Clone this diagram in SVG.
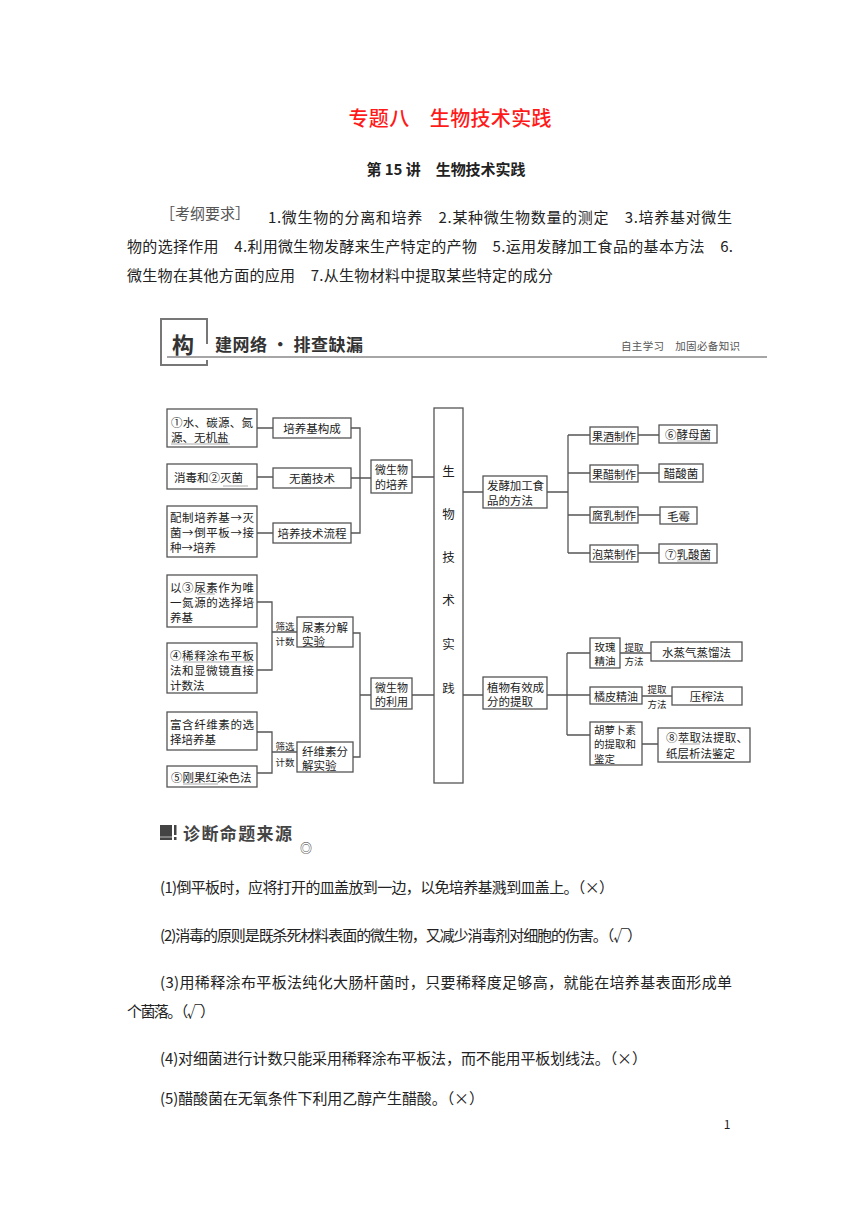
<svg xmlns="http://www.w3.org/2000/svg" width="860" height="1216" viewBox="0 0 860 1216">
<style>
text{font-family:"Noto Sans CJK SC","Noto Sans",sans-serif;dominant-baseline:central;fill:#222}
.b{fill:#fff;stroke:#555;stroke-width:1.3}
.c{fill:none;stroke:#555;stroke-width:1.3}
.u{fill:none;stroke:#aaa;stroke-width:1}
.t{font-size:11.5px}
.s{font-size:11px}
.s2{font-size:10.5px}
.xs{font-size:9.5px}
.m{text-anchor:middle}
.body{font-size:15px;fill:#222}
</style>
<rect width="860" height="1216" fill="#fff"/>

<!-- header -->
<text x="450" y="117" class="m" style="font-size:20px;fill:#ff1a1a;font-weight:500" textLength="203">专题八　生物技术实践</text>
<text x="446" y="168" class="m" style="font-size:15px;font-weight:700" textLength="159">第 15 讲　生物技术实践</text>
<text x="160" y="212" style="font-size:15px;fill:#555" textLength="90">［考纲要求］</text>
<text x="268" y="216" class="body" textLength="464">1.微生物的分离和培养　2.某种微生物数量的测定　3.培养基对微生</text>
<text x="127" y="245" class="body" textLength="606">物的选择作用　4.利用微生物发酵来生产特定的产物　5.运用发酵加工食品的基本方法　6.</text>
<text x="127" y="274" class="body" textLength="426">微生物在其他方面的应用　7.从生物材料中提取某些特定的成分</text>

<!-- section header -->
<g id="sec1">
<path d="M207,344 V319 H161 V365 H207 V360" fill="none" stroke="#777" stroke-width="2"/>
<line x1="167" y1="357" x2="767" y2="357" stroke="#888" stroke-width="1.5"/>
<text x="183" y="343" class="m" style="font-size:22px;font-weight:700;fill:#333">构</text>
<text x="215" y="343" style="font-size:17px;font-weight:700;fill:#333" textLength="148">建网络 · 排查缺漏</text>
<text x="621" y="345" style="font-size:10.5px;fill:#555" textLength="119">自主学习　加固必备知识</text>
</g>

<!-- connectors -->
<g id="connectors" class="c">
<path d="M257,428 H273 M257,477 H273 M257,533 H273"/>
<path d="M351,428 H360 V533 H351 M351,478 H371 M412,477 H434"/>
<path d="M257,602 H272 V670 H257 M272,632 H297"/>
<path d="M257,732 H272 V773 H257 M272,752 H297"/>
<path d="M353,633 H360 V757 H353 M360,695 H371 M412,695 H434"/>
<path d="M463,492 H483 M547,492 H568 M568,435 V553 M568,435 H590 M568,473 H590 M568,515 H590 M568,553 H590"/>
<path d="M638,435 H659 M638,473 H659 M638,515 H660 M638,553 H659"/>
<path d="M463,695 H483 M547,695 H567 M567,653 V735 M567,653 H590 M567,695 H590 M567,735 H590"/>
<path d="M620,653 H651 M642,696 H672 M642,744 H658"/>
</g>

<!-- left upper -->
<g id="n1"><rect class="b" x="167" y="409" width="90" height="38"/>
<text class="t" x="171" y="422" textLength="82">①水、碳源、氮</text><text class="t" x="171" y="437">源、无机盐</text>
<line class="u" x1="171" y1="444" x2="230" y2="444"/></g>
<g id="n2"><rect class="b" x="273" y="418" width="78" height="20"/><text class="t m" x="312" y="428">培养基构成</text></g>
<g id="n3"><rect class="b" x="167" y="464" width="90" height="25"/><text class="t" x="174" y="477">消毒和②灭菌</text>
<line class="u" x1="223" y1="486" x2="248" y2="486"/></g>
<g id="n4"><rect class="b" x="273" y="468" width="78" height="20"/><text class="t m" x="312" y="478">无菌技术</text></g>
<g id="n5"><rect class="b" x="167" y="506" width="90" height="51"/>
<text class="t" x="170" y="517" textLength="84">配制培养基→灭</text><text class="t" x="170" y="532" textLength="84">菌→倒平板→接</text><text class="t" x="170" y="547">种→培养</text></g>
<g id="n6"><rect class="b" x="273" y="523" width="78" height="20"/><text class="t m" x="312" y="533">培养技术流程</text></g>
<g id="n7"><rect class="b" x="371" y="460" width="41" height="33"/><text class="s m" x="391.5" y="469">微生物</text><text class="s m" x="391.5" y="484">的培养</text></g>

<!-- left lower -->
<g id="n8"><rect class="b" x="167" y="575" width="90" height="52"/>
<text class="t" x="170" y="587" textLength="84">以③尿素作为唯</text><text class="t" x="170" y="602" textLength="84">一氮源的选择培</text><text class="t" x="170" y="617">养基</text>
<line class="u" x1="197" y1="594" x2="215" y2="594"/></g>
<g id="n9"><rect class="b" x="167" y="643" width="90" height="50"/>
<text class="t" x="170" y="655" textLength="84">④稀释涂布平板</text><text class="t" x="170" y="670" textLength="84">法和显微镜直接</text><text class="t" x="170" y="685">计数法</text>
<line class="u" x1="183" y1="662" x2="253" y2="662"/></g>
<g id="n10"><rect class="b" x="297" y="617" width="56" height="30"/><text class="t" x="302" y="627">尿素分解</text><text class="t" x="302" y="641">实验</text></g>
<text class="xs m" x="285" y="626">筛选</text><text class="xs m" x="285" y="641">计数</text>
<g id="n11"><rect class="b" x="167" y="712" width="90" height="38"/>
<text class="t" x="170" y="724" textLength="84">富含纤维素的选</text><text class="t" x="170" y="739">择培养基</text></g>
<g id="n12"><rect class="b" x="167" y="766" width="90" height="21"/><text class="t" x="171" y="777">⑤刚果红染色法</text>
<line class="u" x1="183" y1="784" x2="218" y2="784"/></g>
<g id="n13"><rect class="b" x="297" y="742" width="56" height="30"/><text class="t" x="302" y="751">纤维素分</text><text class="t" x="302" y="765">解实验</text></g>
<text class="xs m" x="285" y="746">筛选</text><text class="xs m" x="285" y="762">计数</text>
<g id="n14"><rect class="b" x="371" y="678" width="41" height="31"/><text class="s m" x="391.5" y="687">微生物</text><text class="s m" x="391.5" y="701">的利用</text></g>

<!-- center -->
<g id="n0"><rect class="b" x="434" y="408" width="29" height="375"/>
<text class="t m" x="448.5" y="470" style="font-size:12.5px">生</text>
<text class="t m" x="448.5" y="513" style="font-size:12.5px">物</text>
<text class="t m" x="448.5" y="556" style="font-size:12.5px">技</text>
<text class="t m" x="448.5" y="599" style="font-size:12.5px">术</text>
<text class="t m" x="448.5" y="643" style="font-size:12.5px">实</text>
<text class="t m" x="448.5" y="687" style="font-size:12.5px">践</text></g>

<!-- right upper -->
<g id="n15"><rect class="b" x="483" y="476" width="64" height="32"/><text class="t" x="487" y="485" textLength="57">发酵加工食</text><text class="t" x="487" y="500">品的方法</text></g>
<g id="n16"><rect class="b" x="590" y="427" width="48" height="17"/><text class="s m" x="614" y="435.5">果酒制作</text></g>
<g id="n17"><rect class="b" x="590" y="465" width="48" height="17"/><text class="s m" x="614" y="473.5">果醋制作</text></g>
<g id="n18"><rect class="b" x="590" y="507" width="48" height="16"/><text class="s m" x="614" y="515">腐乳制作</text></g>
<g id="n19"><rect class="b" x="590" y="545" width="48" height="17"/><text class="s m" x="614" y="553.5">泡菜制作</text></g>
<g id="n20"><rect class="b" x="659" y="425" width="58" height="18"/><text class="t m" x="688" y="434">⑥酵母菌</text>
<line class="u" x1="677" y1="441" x2="710" y2="441"/></g>
<g id="n21"><rect class="b" x="659" y="464" width="44" height="18"/><text class="t m" x="681" y="473">醋酸菌</text></g>
<g id="n22"><rect class="b" x="660" y="507" width="37" height="17"/><text class="t m" x="678.5" y="515.5">毛霉</text></g>
<g id="n23"><rect class="b" x="659" y="544" width="58" height="19"/><text class="t m" x="688" y="553.5">⑦乳酸菌</text>
<line class="u" x1="677" y1="561" x2="710" y2="561"/></g>

<!-- right lower -->
<g id="n24"><rect class="b" x="483" y="677" width="64" height="32"/><text class="t" x="487" y="687" textLength="57">植物有效成</text><text class="t" x="487" y="701">分的提取</text></g>
<g id="n25"><rect class="b" x="590" y="638" width="30" height="30"/><text class="s2 m" x="605" y="646">玫瑰</text><text class="s2 m" x="605" y="660.5">精油</text></g>
<text class="xs m" x="634" y="646.5">提取</text><text class="xs m" x="634" y="661">方法</text>
<g id="n26"><rect class="b" x="651" y="642" width="91" height="19"/><text class="t m" x="696.5" y="651.5">水蒸气蒸馏法</text></g>
<g id="n27"><rect class="b" x="590" y="687" width="52" height="17"/><text class="s m" x="616" y="695.5">橘皮精油</text></g>
<text class="xs m" x="657" y="689">提取</text><text class="xs m" x="657" y="704">方法</text>
<g id="n28"><rect class="b" x="672" y="687" width="70" height="18"/><text class="t m" x="707" y="696">压榨法</text></g>
<g id="n29"><rect class="b" x="590" y="722" width="52" height="43"/><text class="s2" x="594" y="729">胡萝卜素</text><text class="s2" x="594" y="743.5">的提取和</text><text class="s2" x="594" y="758">鉴定</text></g>
<g id="n30"><rect class="b" x="658" y="728" width="92" height="34"/><text class="t" x="666" y="737" textLength="82">⑧萃取法提取、</text><text class="t" x="666" y="753">纸层析法鉴定</text>
<line class="u" x1="680" y1="744" x2="700" y2="744"/></g>

<!-- diagnosis -->
<g id="sec2">
<rect x="160" y="825" width="12" height="15" fill="#444"/>
<line x1="160" y1="837" x2="172" y2="837" stroke="#bbb" stroke-width="1"/>
<rect x="174" y="825" width="2.5" height="10" fill="#444"/>
<rect x="174" y="837" width="2.5" height="3" fill="#444"/>
<text x="183" y="832" style="font-size:17px;font-weight:700;fill:#444" textLength="109">诊断命题来源</text>
<text x="306" y="847" class="m" style="font-size:12px;fill:#333">◎</text>
</g>
<text x="160" y="886" class="body" textLength="454">(1)倒平板时，应将打开的皿盖放到一边，以免培养基溅到皿盖上。（×）</text>
<text x="160" y="934" class="body" textLength="482">(2)消毒的原则是既杀死材料表面的微生物，又减少消毒剂对细胞的伤害。（√）</text>
<text x="160" y="981" class="body" textLength="572">(3)用稀释涂布平板法纯化大肠杆菌时，只要稀释度足够高，就能在培养基表面形成单</text>
<text x="127" y="1010" class="body" textLength="88">个菌落。（√）</text>
<text x="160" y="1057" class="body" textLength="487">(4)对细菌进行计数只能采用稀释涂布平板法，而不能用平板划线法。（×）</text>
<text x="160" y="1097" class="body" textLength="324">(5)醋酸菌在无氧条件下利用乙醇产生醋酸。（×）</text>
<text x="727" y="1123" class="m" style="font-size:12px">1</text>
</svg>
